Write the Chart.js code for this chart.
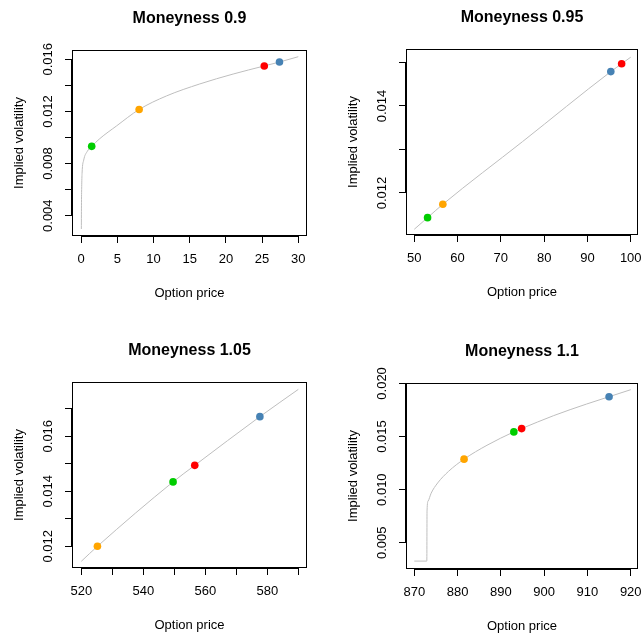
<!DOCTYPE html>
<html>
<head>
<meta charset="utf-8">
<title>Implied volatility vs option price</title>
<script src="https://cdn.jsdelivr.net/npm/chart.js@4/dist/chart.umd.min.js"></script>
<style>
  html, body { margin: 0; padding: 0; background: #fff; }
  #wrap { position: relative; width: 642px; height: 635px; overflow: hidden; background: #fff; }
  #wrap canvas { position: absolute; }
</style>
</head>
<body>
<div id="wrap">
  <canvas id="p1" width="321" height="317" style="left:0px;top:0px"></canvas>
  <canvas id="p2" width="321" height="317" style="left:321px;top:0px"></canvas>
  <canvas id="p3" width="321" height="318" style="left:0px;top:317px"></canvas>
  <canvas id="p4" width="321" height="318" style="left:321px;top:317px"></canvas>
</div>
<script>
// ---- Moneyness 0.9 ----
const m090CurvePrice = [0.04, 0.06, 0.09, 0.14, 0.37, 0.83, 1.47, 2.58, 4.88, 8.02, 11.8, 16.4, 21.0, 25.3, 27.4, 30];
const m090CurveVol   = [0.00298, 0.0050, 0.00623, 0.00725, 0.00827, 0.00891, 0.00932, 0.00991, 0.01088, 0.01215, 0.01319, 0.01411, 0.01487, 0.01549, 0.01579, 0.01620];
const m090QuotePrice = [1.47, 8.02, 25.3, 27.4];
const m090QuoteVol   = [0.00932, 0.01215, 0.01549, 0.01579];
const m090XTicks = [0, 5, 10, 15, 20, 25, 30];
const m090XTickLabels = ['0', '5', '10', '15', '20', '25', '30'];
const m090YTicks = [0.004, 0.006, 0.008, 0.010, 0.012, 0.014, 0.016];
const m090YTickLabels = ['0.004', '', '0.008', '', '0.012', '', '0.016'];

// ---- Moneyness 0.95 ----
const m095CurvePrice = [50, 53.07, 56.6, 75, 95.4, 97.9, 100];
const m095CurveVol   = [0.011166, 0.011433, 0.01174, 0.01318, 0.01479, 0.01497, 0.015122];
const m095QuotePrice = [53.07, 56.6, 97.9, 95.4];
const m095QuoteVol   = [0.011433, 0.01174, 0.01497, 0.01479];
const m095XTicks = [50, 60, 70, 80, 90, 100];
const m095XTickLabels = ['50', '60', '70', '80', '90', '100'];
const m095YTicks = [0.012, 0.013, 0.014, 0.015];
const m095YTickLabels = ['0.012', '', '0.014', ''];

// ---- Moneyness 1.05 ----
const m105CurvePrice = [520, 525.2, 549.6, 556.6, 577.6, 590];
const m105CurveVol   = [0.011455, 0.0120, 0.01434, 0.01494, 0.01671, 0.0177];
const m105QuotePrice = [549.6, 525.2, 556.6, 577.6];
const m105QuoteVol   = [0.01434, 0.0120, 0.01494, 0.01671];
const m105XTicks = [520, 530, 540, 550, 560, 570, 580, 590];
const m105XTickLabels = ['520', '', '540', '', '560', '', '580', ''];
const m105YTicks = [0.012, 0.013, 0.014, 0.015, 0.016, 0.017];
const m105YTickLabels = ['0.012', '', '0.014', '', '0.016', ''];

// ---- Moneyness 1.1 ----
const m110CurvePrice = [870, 872.9, 872.95, 873.2, 873.9, 875.4, 877.9, 881.5, 886.8, 893.0, 894.8, 902.2, 909.8, 915.0, 920];
const m110CurveVol   = [0.00328, 0.00328, 0.0080, 0.00893, 0.00967, 0.01063, 0.01172, 0.012875, 0.01418, 0.01544, 0.01575, 0.01697, 0.01806, 0.01875, 0.01941];
const m110QuotePrice = [893.0, 881.5, 894.8, 915.0];
const m110QuoteVol   = [0.01544, 0.012875, 0.01575, 0.01875];
const m110XTicks = [870, 880, 890, 900, 910, 920];
const m110XTickLabels = ['870', '880', '890', '900', '910', '920'];
const m110YTicks = [0.005, 0.010, 0.015, 0.020];
const m110YTickLabels = ['0.005', '0.010', '0.015', '0.020'];

// quote colours: green, orange, red, steelblue
const quoteColors = ['#00CD00', '#FFA500', '#FF0000', '#4682B4'];
const curveColor = '#BEBEBE';

const FONT = '"Liberation Sans", Arial, Helvetica, sans-serif';
Chart.defaults.font.family = FONT;
Chart.defaults.color = '#000';

const toXY = (xs, ys) => xs.map((v, i) => ({ x: v, y: ys[i] }));

// Frame, axis lines, main title and axis titles for each panel
const panelFrame = {
  id: 'panelFrame',
  afterDraw(chart, args, opts) {
    const { ctx, chartArea: a, scales } = chart;
    const xs = scales.x, ys = scales.y;
    const L = Math.round(a.left), R = Math.round(a.right);
    const T = Math.round(a.top), B = Math.round(a.bottom);
    ctx.save();
    ctx.strokeStyle = '#000';
    ctx.lineWidth = 1;
    ctx.strokeRect(L + 0.5, T + 0.5, R - L - 1, B - T - 1);

    // axis lines spanning the tick range
    ctx.lineWidth = 2;
    const xa = xs.getPixelForValue(xs.ticks[0].value);
    const xb = xs.getPixelForValue(xs.ticks[xs.ticks.length - 1].value);
    ctx.beginPath(); ctx.moveTo(xa, B); ctx.lineTo(xb, B); ctx.stroke();
    const ya = ys.getPixelForValue(ys.ticks[0].value);
    const yb = ys.getPixelForValue(ys.ticks[ys.ticks.length - 1].value);
    ctx.beginPath(); ctx.moveTo(L, ya); ctx.lineTo(L, yb); ctx.stroke();

    ctx.fillStyle = '#000';
    ctx.textAlign = 'center';
    ctx.textBaseline = 'alphabetic';
    const cx = (a.left + a.right) / 2;
    ctx.font = 'bold 16px ' + FONT;
    ctx.fillText(opts.title, cx, a.top - 27);
    ctx.font = '13px ' + FONT;
    ctx.fillText(opts.xTitle, cx, a.bottom + 60.5);
    ctx.translate(a.left - 49.5, (a.top + a.bottom) / 2);
    ctx.rotate(-Math.PI / 2);
    ctx.fillText(opts.yTitle, 0, 0);
    ctx.restore();
  }
};

function makePanel(id, p) {
  const canvas = document.getElementById(id);
  const W = canvas.width, H = canvas.height;
  return new Chart(canvas, {
    type: 'scatter',
    data: {
      datasets: [
        {
          type: 'scatter',
          data: toXY(p.quotePrice, p.quoteVol),
          pointRadius: 3.8,
          pointBackgroundColor: p.quoteColors,
          pointBorderWidth: 0,
          order: 0
        },
        {
          type: 'line',
          data: toXY(p.curvePrice, p.curveVol),
          borderColor: curveColor,
          borderWidth: 1,
          pointRadius: 0,
          fill: false,
          cubicInterpolationMode: 'monotone',
          order: 1
        }
      ]
    },
    options: {
      responsive: false,
      animation: false,
      devicePixelRatio: 1,
      events: [],
      layout: { padding: { top: p.area.top, right: W - p.area.right, left: 0, bottom: 0 } },
      plugins: {
        legend: { display: false },
        title: { display: false },
        tooltip: { enabled: false },
        panelFrame: { title: p.title, xTitle: 'Option price', yTitle: 'Implied volatility' }
      },
      scales: {
        x: {
          type: 'linear',
          position: 'bottom',
          bounds: 'data',
          min: p.xMin, max: p.xMax,
          afterBuildTicks: s => { s.ticks = p.xTicks.map(v => ({ value: v })); },
          afterFit: s => { s.height = H - p.area.bottom; s.paddingLeft = 0; s.paddingRight = 0; },
          grid: { display: true, drawOnChartArea: false, drawTicks: true, tickLength: 7, color: '#000', lineWidth: 1 },
          border: { display: false },
          ticks: {
            autoSkip: false,
            maxRotation: 0, minRotation: 0,
            padding: 9,
            color: '#000',
            font: { size: 13, family: FONT },
            callback: (v, i) => p.xTickLabels[i]
          }
        },
        y: {
          type: 'linear',
          position: 'left',
          bounds: 'data',
          min: p.yMin, max: p.yMax,
          afterBuildTicks: s => { s.ticks = p.yTicks.map(v => ({ value: v })); },
          afterFit: s => { s.width = p.area.left; s.paddingTop = 0; s.paddingBottom = 0; },
          grid: { display: true, drawOnChartArea: false, drawTicks: true, tickLength: 7, color: '#000', lineWidth: 1 },
          border: { display: false },
          ticks: {
            autoSkip: false,
            minRotation: 90, maxRotation: 90,
            crossAlign: 'center',
            padding: 0,
            color: '#000',
            font: { size: 13, family: FONT },
            callback: (v, i) => p.yTickLabels[i]
          }
        }
      }
    },
    plugins: [panelFrame]
  });
}

makePanel('p1', {
  title: 'Moneyness 0.9',
  curvePrice: m090CurvePrice, curveVol: m090CurveVol,
  quotePrice: m090QuotePrice, quoteVol: m090QuoteVol,
  quoteColors: quoteColors,
  xTicks: m090XTicks, xTickLabels: m090XTickLabels,
  yTicks: m090YTicks, yTickLabels: m090YTickLabels,
  xMin: -1.25, xMax: 31.2, yMin: 0.002442, yMax: 0.016714,
  area: { left: 72, top: 50, right: 307, bottom: 236 }
});

makePanel('p2', {
  title: 'Moneyness 0.95',
  curvePrice: m095CurvePrice, curveVol: m095CurveVol,
  quotePrice: m095QuotePrice, quoteVol: m095QuoteVol,
  quoteColors: [quoteColors[0], quoteColors[1], quoteColors[2], quoteColors[3]],
  xTicks: m095XTicks, xTickLabels: m095XTickLabels,
  yTicks: m095YTicks, yTickLabels: m095YTickLabels,
  xMin: 48.09, xMax: 101.68, yMin: 0.011034, yMax: 0.01531,
  area: { left: 85, top: 49, right: 318, bottom: 235 }
});

makePanel('p3', {
  title: 'Moneyness 1.05',
  curvePrice: m105CurvePrice, curveVol: m105CurveVol,
  quotePrice: m105QuotePrice, quoteVol: m105QuoteVol,
  quoteColors: quoteColors,
  xTicks: m105XTicks, xTickLabels: m105XTickLabels,
  yTicks: m105YTicks, yTickLabels: m105YTickLabels,
  xMin: 517.0, xMax: 592.8, yMin: 0.011212, yMax: 0.017968,
  area: { left: 72, top: 65, right: 307, bottom: 251 }
});

makePanel('p4', {
  title: 'Moneyness 1.1',
  curvePrice: m110CurvePrice, curveVol: m110CurveVol,
  quotePrice: m110QuotePrice, quoteVol: m110QuoteVol,
  quoteColors: quoteColors,
  xTicks: m110XTicks, xTickLabels: m110XTickLabels,
  yTicks: m110YTicks, yTickLabels: m110YTickLabels,
  xMin: 868.09, xMax: 921.68, yMin: 0.002535, yMax: 0.02004,
  area: { left: 85, top: 66, right: 318, bottom: 252 }
});
</script>
</body>
</html>
